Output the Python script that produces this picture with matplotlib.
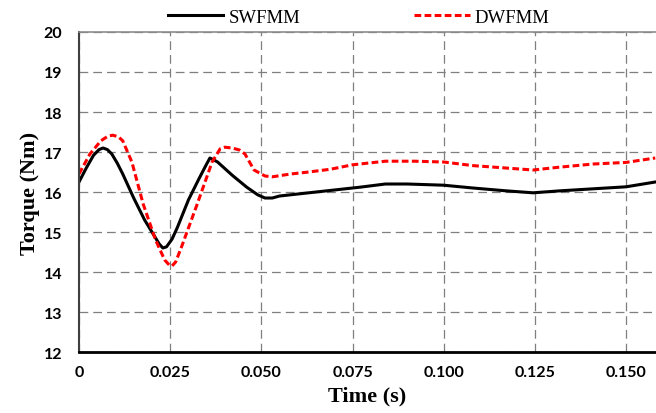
import matplotlib.pyplot as plt
import numpy as np

# torque ripple, single vs dual winding FMM
t_sw = [0, 0.002, 0.004, 0.0055, 0.0066, 0.0078, 0.009, 0.0105, 0.012, 0.015, 0.018,
        0.021, 0.022, 0.023, 0.024, 0.0255, 0.027, 0.030, 0.033, 0.035, 0.0359,
        0.037, 0.038, 0.042, 0.046, 0.049, 0.051, 0.053, 0.055, 0.060, 0.065,
        0.070, 0.077, 0.084, 0.090, 0.100, 0.108, 0.117, 0.1245, 0.132, 0.141,
        0.150, 0.158]
torque_sw = [16.25, 16.6, 16.92, 17.06, 17.1, 17.06, 16.95, 16.72, 16.45, 15.85, 15.3,
             14.85, 14.7, 14.6, 14.63, 14.82, 15.12, 15.8, 16.35, 16.7, 16.85,
             16.8, 16.75, 16.42, 16.12, 15.93, 15.85, 15.85, 15.9, 15.95, 16.0,
             16.05, 16.12, 16.2, 16.2, 16.17, 16.1, 16.03, 15.98, 16.03, 16.08,
             16.13, 16.25]

t_dw = [0, 0.003, 0.006, 0.008, 0.0093, 0.0108, 0.012, 0.0145, 0.0176, 0.021,
        0.0235, 0.0248, 0.0255, 0.0265, 0.028, 0.0323, 0.0365, 0.0387, 0.040, 0.042,
        0.044, 0.0455, 0.048, 0.051, 0.053, 0.058, 0.063, 0.069, 0.075, 0.084,
        0.092, 0.100, 0.108, 0.117, 0.1245, 0.1316, 0.141, 0.150, 0.158]
torque_dw = [16.45, 16.95, 17.28, 17.4, 17.42, 17.38, 17.28, 16.75, 15.7, 14.8,
             14.3, 14.17, 14.15, 14.25, 14.6, 15.67, 16.75, 17.08, 17.12, 17.1,
             17.05, 16.95, 16.55, 16.4, 16.38, 16.45, 16.5, 16.57, 16.68, 16.77,
             16.77, 16.75, 16.66, 16.6, 16.55, 16.62, 16.7, 16.74, 16.85]

xticks = [0, 0.025, 0.050, 0.075, 0.100, 0.125, 0.150]
xlabels = ['0', '0.025', '0.050', '0.075', '0.100', '0.125', '0.150']
yticks = [12, 13, 14, 15, 16, 17, 18, 19, 20]

fig = plt.figure(figsize=(6.56, 4.14), dpi=100)
ax = fig.add_axes([0.1204, 0.1473, 0.8796, 0.773])

ax.plot(t_sw, torque_sw, c='black', lw=2.2, label='SWFMM')
ax.plot(t_dw, torque_dw, c='#ff0000', lw=2.2, ls=(0, (2.2, 1.1)), label='DWFMM')

ax.set_xlim(0, 0.1582)
ax.set_ylim(12, 20)
ax.set_xticks(xticks)
ax.set_xticklabels(xlabels)
ax.set_yticks(yticks)
ax.tick_params(length=0)
ax.tick_params(axis='x', pad=9)
ax.tick_params(axis='y', pad=12)
for lab in ax.get_xticklabels() + ax.get_yticklabels():
    lab.set_fontfamily('Lato')
    lab.set_fontweight('bold')
    lab.set_fontsize(11.5)

ax.grid(True, color='#7f7f7f', ls=(0, (7, 4)), lw=0.9)
ax.set_axisbelow(True)
ax.spines['right'].set_visible(False)
ax.spines['top'].set_color('#8c8c8c')
ax.spines['top'].set_linewidth(1.2)
ax.spines['left'].set_color('#404040')
ax.spines['left'].set_linewidth(1.5)
ax.spines['bottom'].set_color('black')
ax.spines['bottom'].set_linewidth(2)

ax.set_xlabel('Time (s)', fontfamily='Liberation Serif', fontweight='bold',
              fontsize=16, labelpad=5)
ax.set_ylabel('Torque (Nm)', fontfamily='Liberation Serif', fontweight='bold',
              fontsize=16, labelpad=3)

ax.legend(loc='center', bbox_to_anchor=(0.547, 0.956), bbox_transform=fig.transFigure,
          ncol=2, frameon=False, prop={'family': 'Liberation Serif', 'size': 13.5},
          handlelength=2.95, columnspacing=6.1, handletextpad=0.27, borderaxespad=0)

fig.savefig('out.png', dpi=100)
plt.close(fig)
